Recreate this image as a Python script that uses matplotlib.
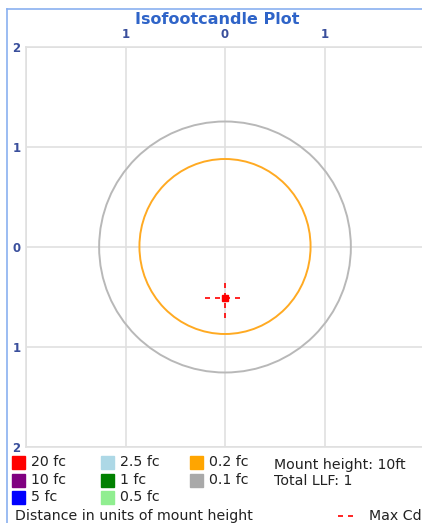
import matplotlib
matplotlib.use("Agg")
import matplotlib.pyplot as plt
from matplotlib.patches import Ellipse, Rectangle
from matplotlib.lines import Line2D

# isofootcandle contours (centre x, centre y, width, height) in mount heights
contour_levels = ["0.2 fc", "0.1 fc"]
contour_cx = [0.0, 0.0]
contour_cy = [0.005, 0.0]
contour_w = [1.72, 2.53]
contour_h = [1.75, 2.51]
contour_colors = ["#ffaa22", "#b8b8b8"]

max_cd_x = 0.0
max_cd_y = -0.51
max_cd_arm = 0.2

ticks = [-2, -1, 0, 1, 2]
tick_labels = [str(abs(t)) for t in ticks]

legend_labels = ["20 fc", "10 fc", "5 fc", "2.5 fc", "1 fc", "0.5 fc", "0.2 fc", "0.1 fc"]
legend_colors = ["#ff0000", "#800080", "#0000ff", "#add8e6", "#008000", "#90ee90",
                 "#ffa500", "#a9a9a9"]

W, H = 422, 523
fig = plt.figure(figsize=(W / 100, H / 100), dpi=100)

def fx(px):
    return px / W

def fy(py):
    return 1 - py / H

# outer frame lines (left + top)
fig.add_artist(Line2D([fx(7), fx(7)], [fy(9), fy(523)], color="#8ab0f0", lw=1.2))
fig.add_artist(Line2D([fx(7), fx(422)], [fy(9), fy(9)], color="#8ab0f0", lw=1.2))

ax = fig.add_axes([fx(26), fy(447), 398 / W, 400 / H])
ax.set_xlim(-2, 2)
ax.set_ylim(-2, 2)
ax.set_xticks(ticks)
ax.set_yticks(ticks)
ax.grid(True, color="#e0e0e0", lw=1.2)
ax.set_axisbelow(True)
for s in ax.spines.values():
    s.set_color("#e0e0e0")
    s.set_linewidth(1.2)
ax.tick_params(length=0, labelsize=8.5, labelcolor="#3a4f9c", pad=4,
               top=True, labeltop=True, bottom=False, labelbottom=False)
ax.set_xticklabels(tick_labels)
ax.set_yticklabels(tick_labels)
for lab in ax.get_xticklabels() + ax.get_yticklabels():
    lab.set_fontweight("bold")
# outer x labels are not shown (the y axis carries the 2s)
xl = ax.get_xticklabels()
xl[0].set_visible(False)
xl[-1].set_visible(False)

for cx, cy, w, h, c in zip(contour_cx, contour_cy, contour_w, contour_h, contour_colors):
    ax.add_patch(Ellipse((cx, cy), w, h, fill=False, edgecolor=c, lw=1.4))

ax.plot([max_cd_x - max_cd_arm, max_cd_x + max_cd_arm], [max_cd_y, max_cd_y],
        color="red", ls=(0, (3, 3)), lw=1.2)
ax.plot([max_cd_x, max_cd_x], [max_cd_y - max_cd_arm, max_cd_y + max_cd_arm],
        color="red", ls=(0, (3, 3)), lw=1.2)
ax.plot([max_cd_x], [max_cd_y], marker="s", color="red", ms=5, mec="red")

fig.text(fx(217), fy(19), "Isofootcandle Plot", ha="center", va="center",
         fontsize=11.5, fontweight="bold", color="#2f64c8")

# legend grid
col_x = [12, 101, 190]
row_y = [462, 480, 497]
for i, (lab, c) in enumerate(zip(legend_labels, legend_colors)):
    col, row = divmod(i, 3)
    x0, y0 = col_x[col], row_y[row]
    fig.add_artist(Rectangle((fx(x0), fy(y0 + 6.5)), 13 / W, 13 / H, color=c,
                             transform=fig.transFigure))
    fig.text(fx(x0 + 19), fy(y0), lab, ha="left", va="center", fontsize=10.2,
             color="#222222")

fig.text(fx(274), fy(465), "Mount height: 10ft", ha="left", va="center",
         fontsize=10.2, color="#222222")
fig.text(fx(274), fy(481), "Total LLF: 1", ha="left", va="center",
         fontsize=10.2, color="#222222")
fig.text(fx(15), fy(516), "Distance in units of mount height", ha="left",
         va="center", fontsize=10.2, color="#222222")
fig.add_artist(Line2D([fx(338), fx(358)], [fy(516), fy(516)], color="red",
                      ls=(0, (3, 3)), lw=1.2))
fig.text(fx(369), fy(516), "Max Cd", ha="left", va="center", fontsize=10.2,
         color="#222222")

fig.savefig("out.png", dpi=100)
